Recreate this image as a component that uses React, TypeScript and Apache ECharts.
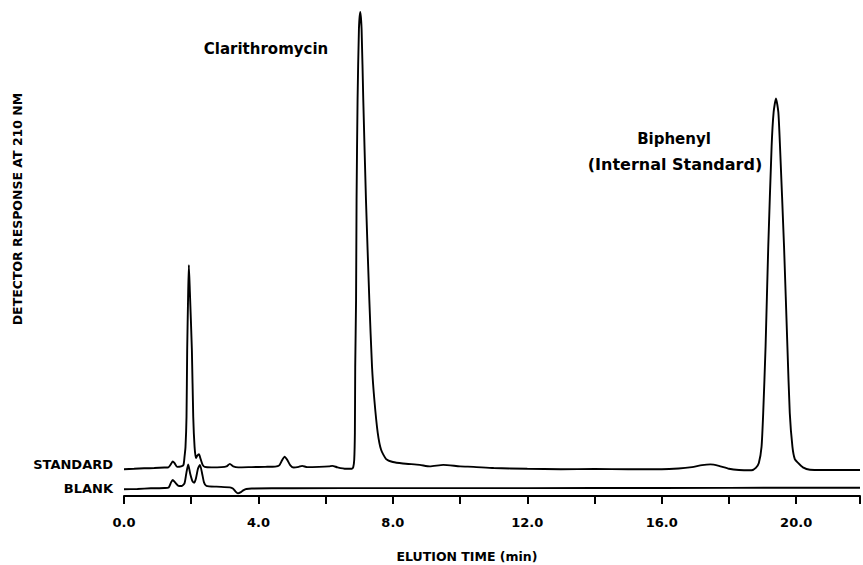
import React, { useEffect, useRef } from "react";
import * as echarts from "echarts";

// Elution time (min) / detector response (arbitrary units, 0-100 scale)
const standardTrace: [number, number][] = [
  [0.0, 5.5], [0.3, 5.6], [0.6, 5.7], [0.9, 5.75], [1.2, 5.85], [1.32, 5.9], [1.4, 6.6], [1.45, 7.1],
  [1.5, 6.8], [1.58, 6.0], [1.7, 6.1], [1.77, 6.4], [1.8, 8.0], [1.83, 10.1], [1.86, 16.3], [1.88, 30.0],
  [1.91, 42.0], [1.93, 47.5], [1.96, 42.0], [2.02, 30.0], [2.06, 16.3], [2.1, 10.1], [2.14, 7.8],
  [2.18, 8.3], [2.23, 8.6], [2.28, 7.6], [2.34, 6.4], [2.4, 6.0], [2.6, 5.9], [2.9, 5.95], [3.05, 6.1],
  [3.15, 6.6], [3.25, 6.1], [3.4, 5.9], [3.8, 5.95], [4.2, 6.0], [4.5, 6.05], [4.62, 6.3], [4.7, 7.3],
  [4.78, 8.1], [4.86, 7.4], [4.95, 6.3], [5.05, 5.85], [5.2, 6.0], [5.3, 6.2], [5.45, 5.95], [5.8, 6.0],
  [6.1, 6.1], [6.2, 6.2], [6.35, 5.9], [6.6, 5.6], [6.78, 5.6], [6.82, 5.9], [6.85, 7.4], [6.87, 13.0],
  [6.88, 26.6], [6.905, 40.3], [6.92, 60.9], [6.95, 81.5], [6.99, 96.0], [7.03, 99.6], [7.07, 96.0],
  [7.12, 81.5], [7.2, 60.9], [7.3, 40.3], [7.38, 26.6], [7.45, 19.75], [7.55, 13.0], [7.65, 9.5],
  [7.8, 7.6], [8.0, 7.0], [8.3, 6.7], [8.8, 6.4], [9.1, 6.1], [9.5, 6.4], [10.0, 6.1], [10.4, 6.0],
  [11.0, 5.75], [12.0, 5.6], [13.0, 5.5], [14.0, 5.55], [15.0, 5.5], [16.0, 5.5], [16.5, 5.65],
  [16.9, 5.95], [17.2, 6.35], [17.45, 6.5], [17.7, 6.2], [18.0, 5.6], [18.3, 5.35], [18.67, 5.3],
  [18.8, 5.8], [18.89, 6.8], [18.97, 10.1], [19.02, 17.1], [19.09, 30.7], [19.17, 51.3], [19.27, 71.9],
  [19.33, 79.0], [19.4, 81.8], [19.47, 79.0], [19.52, 71.9], [19.64, 51.3], [19.74, 30.7], [19.81, 17.1],
  [19.89, 10.1], [19.96, 7.6], [20.06, 6.8], [20.2, 5.9], [20.41, 5.4], [20.8, 5.35], [21.5, 5.35],
  [21.9, 5.35],
];

const blankTrace: [number, number][] = [
  [0.0, 1.38], [0.4, 1.45], [0.8, 1.58], [1.2, 1.65], [1.33, 1.75], [1.4, 2.8], [1.45, 3.29], [1.52, 2.8],
  [1.62, 2.1], [1.72, 2.06], [1.8, 2.6], [1.85, 4.5], [1.91, 6.5], [1.97, 4.6], [2.04, 3.0], [2.09, 2.74],
  [2.14, 3.6], [2.2, 5.6], [2.26, 6.4], [2.32, 4.8], [2.38, 2.8], [2.45, 2.1], [2.75, 1.92], [3.15, 1.78],
  [3.25, 1.5], [3.32, 0.9], [3.39, 0.55], [3.48, 0.8], [3.56, 1.2], [3.64, 1.44], [3.8, 1.55], [5.0, 1.6],
  [8.0, 1.62], [12.0, 1.62], [16.0, 1.65], [20.0, 1.7], [21.9, 1.71],
];

const traceNames = ["STANDARD", "BLANK"];
const peakNames = ["Clarithromycin", "Biphenyl", "(Internal Standard)"];
const xAxisTitle = "ELUTION TIME (min)";
const yAxisTitle = "DETECTOR RESPONSE AT 210 NM";

const FONT = "'DejaVu Sans', sans-serif";

export default function App() {
  const ref = useRef<HTMLDivElement>(null);
  useEffect(() => {
    if (!ref.current) return;
    const chart = echarts.init(ref.current, null, { renderer: "svg" });
    const lineStyle = { color: "#000", width: 1.9 };
    const bold = (size: number) => ({ fontFamily: FONT, fontWeight: "bold", fontSize: size, fill: "#000" });
    chart.setOption({
      animation: false,
      backgroundColor: "#fff",
      grid: { left: 124, right: 0, top: 10, bottom: 69, containLabel: false },
      xAxis: {
        type: "value",
        min: 0,
        max: 21.9,
        interval: 2,
        axisLine: { show: true, lineStyle: { color: "#000", width: 2 } },
        axisTick: { show: true, length: 8, lineStyle: { color: "#000", width: 2 } },
        axisLabel: {
          margin: 20,
          fontFamily: FONT,
          fontWeight: "bold",
          fontSize: 13,
          color: "#000",
          formatter: (v: number) => (Math.abs(v % 4) < 1e-6 ? v.toFixed(1) : ""),
        },
        splitLine: { show: false },
      },
      yAxis: { type: "value", min: 0, max: 100, show: false },
      series: [
        {
          name: traceNames[0],
          type: "line",
          data: standardTrace,
          showSymbol: false,
          smooth: 0.2,
          lineStyle,
        },
        {
          name: traceNames[1],
          type: "line",
          data: blankTrace,
          showSymbol: false,
          smooth: 0.2,
          lineStyle,
        },
      ],
      graphic: [
        {
          type: "text",
          x: 17,
          y: 209,
          rotation: Math.PI / 2,
          style: { text: yAxisTitle, ...bold(12.5), textAlign: "center", textVerticalAlign: "middle" },
        },
        {
          type: "text",
          x: 113,
          y: 464,
          style: { text: traceNames[0], ...bold(13), textAlign: "right", textVerticalAlign: "middle" },
        },
        {
          type: "text",
          x: 113,
          y: 488,
          style: { text: traceNames[1], ...bold(13), textAlign: "right", textVerticalAlign: "middle" },
        },
        {
          type: "text",
          x: 266,
          y: 49,
          style: { text: peakNames[0], ...bold(15), textAlign: "center", textVerticalAlign: "middle" },
        },
        {
          type: "text",
          x: 674,
          y: 139,
          style: { text: peakNames[1], ...bold(15), textAlign: "center", textVerticalAlign: "middle" },
        },
        {
          type: "text",
          x: 675,
          y: 164,
          style: { text: peakNames[2], ...bold(16), textAlign: "center", textVerticalAlign: "middle" },
        },
        {
          type: "text",
          x: 467,
          y: 556,
          style: { text: xAxisTitle, ...bold(12.5), textAlign: "center", textVerticalAlign: "middle" },
        },
      ],
    });
    return () => chart.dispose();
  }, []);
  return (
    <div
      ref={ref}
      style={{ position: "fixed", left: 0, top: 0, width: 863, height: 565, background: "#fff" }}
    />
  );
}
